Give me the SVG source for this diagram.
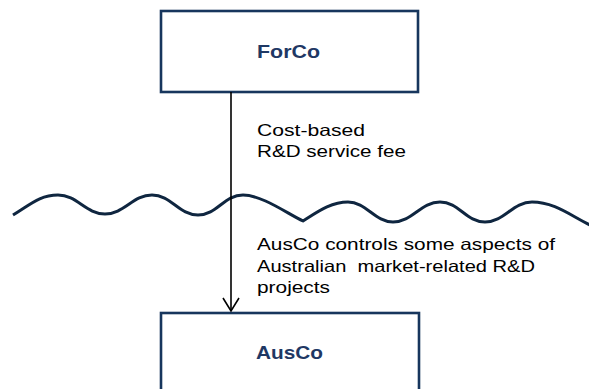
<svg xmlns="http://www.w3.org/2000/svg" width="589" height="389" viewBox="0 0 589 389">
<style>
.box{fill:#ffffff;stroke:#17365d;stroke-width:2.6}
.nlabel{font-family:"Liberation Sans",Arial,sans-serif;font-weight:bold;font-size:18.5px;fill:#1f3864}
.elabel{font-family:"Liberation Sans",Arial,sans-serif;font-size:16.5px;fill:#000000}
.wave{fill:none;stroke:#0f2640;stroke-width:3;stroke-linejoin:round}
.conn{fill:none;stroke:#000000;stroke-width:1.6}
</style>
<defs>
<marker id="openArrow" markerUnits="userSpaceOnUse" markerWidth="20" markerHeight="20" refX="16" refY="8" orient="auto" viewBox="0 0 20 16">
<path d="M3,0 L16,8 L3,16" fill="none" stroke="#000000" stroke-width="1.6"/>
</marker>
</defs>
<rect width="589" height="389" fill="#ffffff"/>
<g id="boundary">
<path class="wave" d="M13,215 C31,204 40,195 58,195 C77,195 86,214 105,214 C124,214 133,195 152,195 C171,195 179,215 198,215 C217,215 224,195 243,195 C262,195 288,214 303,221 C316,213 330,202 348,202 C366,202 375,222 393,222 C412,222 421,202 440,202 C459,202 466,222 485,222 C504,222 513,202 532,202 C555,202 571,216 592,226"/>
</g>
<g id="ForCo">
<rect class="box" x="161" y="11" width="257" height="81"/>
<text class="nlabel" x="257" y="58" textLength="63" lengthAdjust="spacingAndGlyphs">ForCo</text>
</g>
<g id="AusCo">
<rect class="box" x="161" y="313" width="258" height="100"/>
<text class="nlabel" x="256" y="359" textLength="67" lengthAdjust="spacingAndGlyphs">AusCo</text>
</g>
<g id="connectors">
<line class="conn" x1="231" y1="92" x2="231" y2="311" marker-end="url(#openArrow)"/>
<text class="elabel" x="257" y="136" textLength="108" lengthAdjust="spacingAndGlyphs">Cost-based</text>
<text class="elabel" x="257" y="157" textLength="149" lengthAdjust="spacingAndGlyphs">R&amp;D service fee</text>
<text class="elabel" x="257" y="250" textLength="298" lengthAdjust="spacingAndGlyphs">AusCo controls some aspects of</text>
<text class="elabel" x="257" y="272" textLength="278" lengthAdjust="spacingAndGlyphs" xml:space="preserve">Australian  market-related R&amp;D</text>
<text class="elabel" x="257" y="293" textLength="73" lengthAdjust="spacingAndGlyphs">projects</text>
</g>
</svg>
